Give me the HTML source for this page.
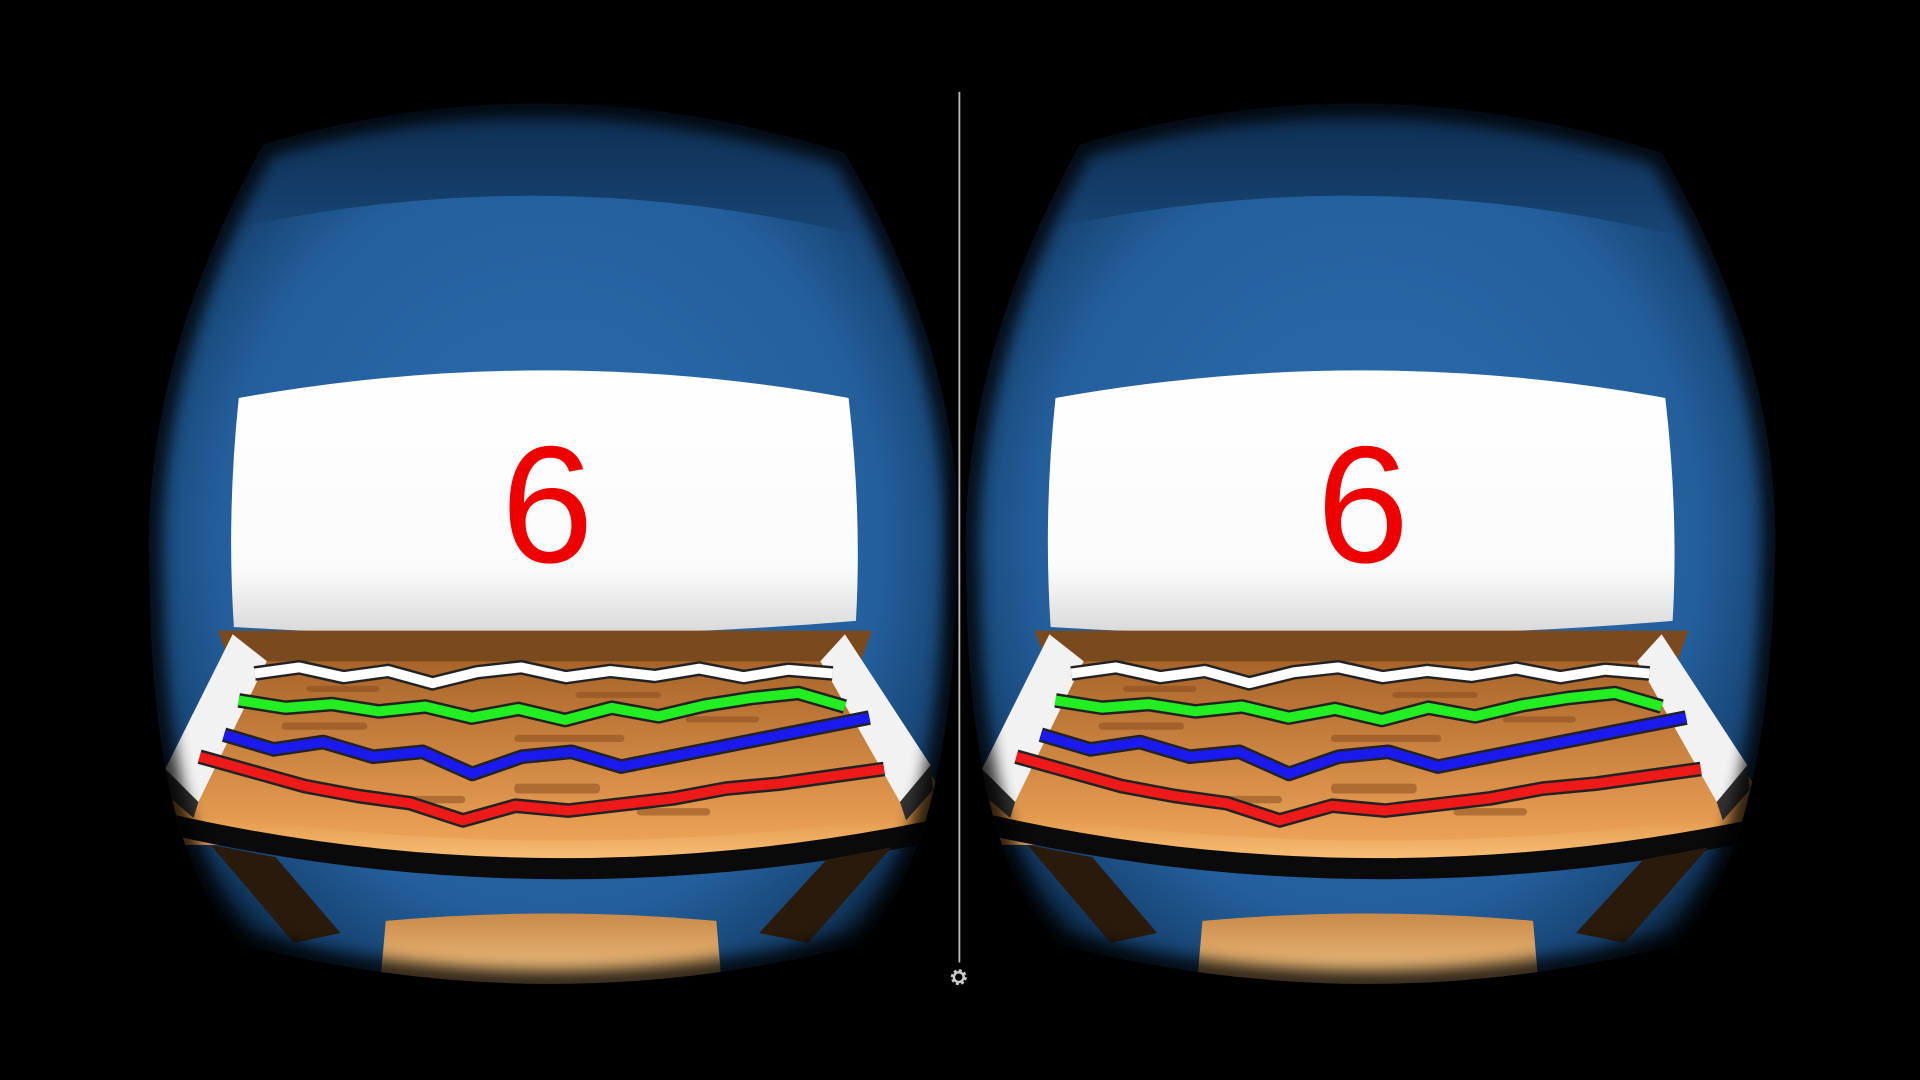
<!DOCTYPE html>
<html><head><meta charset="utf-8">
<style>
html,body{margin:0;padding:0;background:#000;width:1920px;height:1080px;overflow:hidden}
svg{display:block}
</style></head>
<body>
<svg width="1920" height="1080" viewBox="0 0 1568 882" xmlns="http://www.w3.org/2000/svg">
<defs>
  <radialGradient id="lensG" cx="0.5" cy="0.5" r="0.55">
    <stop offset="0" stop-color="#2c6db0"/>
    <stop offset="0.7" stop-color="#245f9c"/>
    <stop offset="0.9" stop-color="#15406c"/>
    <stop offset="1" stop-color="#05121f"/>
  </radialGradient>
  <linearGradient id="topG" x1="0" y1="0" x2="0" y2="1">
    <stop offset="0" stop-color="#0a2440"/>
    <stop offset="1" stop-color="#1a4a7e"/>
  </linearGradient>
  <linearGradient id="screenG" x1="0" y1="0" x2="0" y2="1">
    <stop offset="0" stop-color="#ffffff"/>
    <stop offset="0.75" stop-color="#fbfbfb"/>
    <stop offset="1" stop-color="#d8d8d8"/>
  </linearGradient>
  <linearGradient id="floorG" x1="0" y1="0" x2="0" y2="1">
    <stop offset="0" stop-color="#a8642a"/>
    <stop offset="1" stop-color="#eea457"/>
  </linearGradient>
  <linearGradient id="frontG" x1="0" y1="0" x2="0" y2="1">
    <stop offset="0" stop-color="#e09244"/>
    <stop offset="1" stop-color="#fac47c"/>
  </linearGradient>
  <linearGradient id="boxG" x1="0" y1="0" x2="0" y2="1">
    <stop offset="0" stop-color="#c98a48"/>
    <stop offset="1" stop-color="#f5c98a"/>
  </linearGradient>
  <filter id="blur"><feGaussianBlur stdDeviation="6"/></filter>
  <clipPath id="lensClip">
    <path d="M215,118 Q450,48 690,125 Q792,300 782,470 Q776,700 700,772 Q450,835 200,772 Q124,700 122,470 Q114,300 215,118 Z"/>
  </clipPath>
  <g id="eye">
    <g clip-path="url(#lensClip)">
      <rect x="100" y="40" width="700" height="800" fill="url(#lensG)"/>
      <path d="M100,40 L800,40 L800,220 Q450,105 100,210 Z" fill="url(#topG)"/>
      <path d="M195,325 Q447,280 693,325 Q704,420 699,507 Q447,528 191,512 Q185,420 195,325 Z" fill="url(#screenG)"/>
      <path d="M178,515 L712,515 L700,548 L190,548 Z" fill="#7a4a1e"/>
      <path d="M190,540 L700,540 L765,640 L768,690 L132,690 L135,640 Z" fill="url(#floorG)"/>
      <g fill="#8a4f20" opacity="0.55">
        <rect x="230" y="590" width="70" height="6" rx="3"/>
        <rect x="420" y="600" width="90" height="6" rx="3"/>
        <rect x="560" y="585" width="60" height="5" rx="3"/>
        <rect x="300" y="650" width="80" height="6" rx="3"/>
        <rect x="420" y="640" width="70" height="8" rx="3"/>
        <rect x="520" y="660" width="60" height="6" rx="3"/>
        <rect x="250" y="560" width="60" height="5" rx="3"/>
        <rect x="470" y="565" width="70" height="5" rx="3"/>
      </g>
      <path d="M140,660 Q450,712 770,662 L770,675 Q450,740 140,672 Z" fill="url(#frontG)"/>
      <path d="M140,665 Q450,735 770,668 L770,686 Q450,752 140,682 Z" fill="#0a0a0a"/>
      <path d="M172,690 L225,700 L278,762 L240,770 Z" fill="#2a1a0c"/>
      <path d="M728,692 L675,702 L620,762 L660,770 Z" fill="#2a1a0c"/>
      <path d="M315,752 Q450,740 585,752 L590,810 L310,810 Z" fill="url(#boxG)"/>
      <path d="M190,518 L218,540 L162,655 L135,628 Z" fill="#f2f2f2"/>
      <path d="M162,655 L135,628 L135,648 L158,668 Z" fill="#333"/>
      <path d="M690,518 L670,540 L735,655 L760,625 Z" fill="#f2f2f2"/>
      <path d="M735,655 L760,625 L762,645 L740,670 Z" fill="#333"/>
    </g>
    <path d="M215,118 Q450,48 690,125 Q792,300 782,470 Q776,700 700,772 Q450,835 200,772 Q124,700 122,470 Q114,300 215,118 Z" fill="none" stroke="#000" stroke-width="22" filter="url(#blur)" opacity="0.8"/>
  </g>
</defs>

<rect width="1568" height="882" fill="#000"/>
<use href="#eye"/>
<use href="#eye" x="667"/>

<text x="447" y="459" text-anchor="middle" font-family="Liberation Sans, sans-serif" font-size="136" fill="#ee0000">6</text>
<text x="1113" y="459" text-anchor="middle" font-family="Liberation Sans, sans-serif" font-size="136" fill="#ee0000">6</text>

<g id="waves"></g>

<line x1="783.5" y1="75" x2="783.5" y2="786" stroke="#bbb" stroke-width="1.5"/>
<g transform="translate(783,798)">
  <circle r="5" fill="none" stroke="#ccc" stroke-width="3" stroke-dasharray="2.2 1.7"/>
  <circle r="4" fill="none" stroke="#ccc" stroke-width="2"/>
  <circle r="1.5" fill="#000"/>
</g>

<script>
var whiteY=[550,545,553,548,558,549,545,553,548,552,546,553,547,550];
var greenY=[572,578,575,581,577,586,579,588,578,585,576,570,566,577];
var blueY=[600,612,606,618,614,632,618,614,626,618,610,602,594,586];
var redY=[618,630,642,650,656,670,658,662,657,652,644,640,634,628];
var specs=[[whiteY,208,680,'#ffffff'],[greenY,195,690,'#22ee22'],[blueY,183,710,'#1a1aee'],[redY,163,722,'#ee1a1a']];
var wg=document.getElementById('waves');
var NS='http://www.w3.org/2000/svg';
[0,667].forEach(function(off){
  specs.forEach(function(s){
    var ys=s[0],x0=s[1],x1=s[2],col=s[3];
    var n=ys.length;
    var pts=ys.map(function(y,i){return (x0+off+(x1-x0)*i/(n-1))+','+y;}).join(' ');
    var sh=document.createElementNS(NS,'polyline');
    
    
    sh.setAttribute('points',pts);
    sh.setAttribute('fill','none');
    sh.setAttribute('stroke','#222');
    sh.setAttribute('stroke-width','12');
    sh.setAttribute('stroke-linejoin','round');
    wg.appendChild(sh);
    var pl=document.createElementNS(NS,'polyline');
    
    
    pl.setAttribute('points',pts);
    pl.setAttribute('fill','none');
    pl.setAttribute('stroke',col);
    pl.setAttribute('stroke-width','8');
    pl.setAttribute('stroke-linejoin','round');
    wg.appendChild(pl);
  });
});
</script>
</svg>
</body></html>
